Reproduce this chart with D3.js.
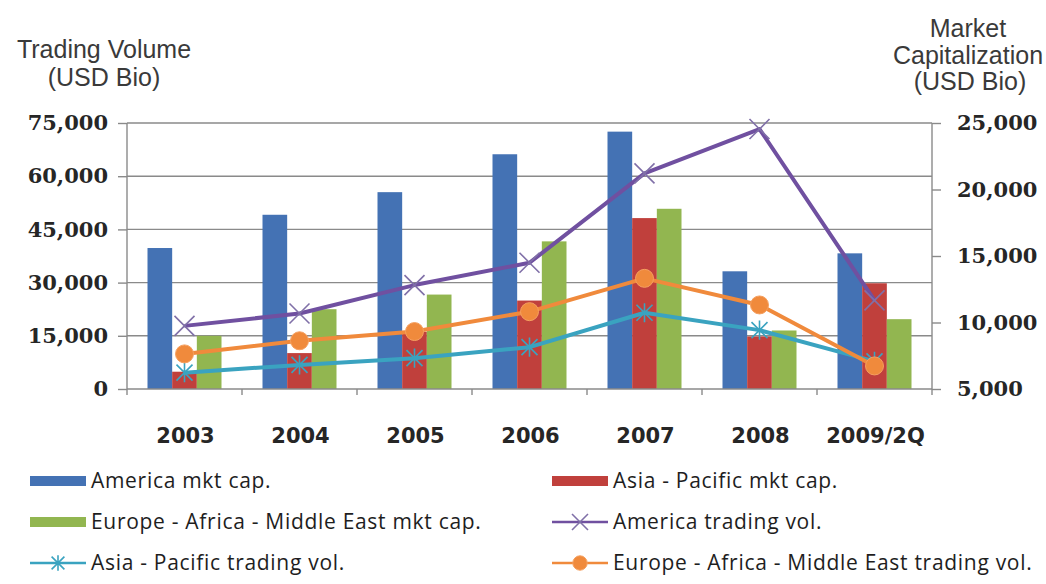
<!DOCTYPE html>
<html>
<head>
<meta charset="utf-8">
<script src="https://cdn.jsdelivr.net/npm/d3@7"></script>
<style>
  html, body { margin: 0; padding: 0; background: #fff; }
  svg { display: block; }
</style>
</head>
<body>
<svg id="chart" width="1046" height="584"></svg>
<script>
// ---- data ----
const years = ["2003", "2004", "2005", "2006", "2007", "2008", "2009/2Q"];
const americaCap = [15600, 18100, 19800, 22650, 24350, 13850, 15200];
const asiaCap    = [6300, 7700, 9300, 11650, 17850, 8950, 12950];
const eameCap    = [9000, 11000, 12100, 16100, 18550, 9400, 10250];
const americaVol = [17800, 21300, 29300, 35600, 60800, 73300, 25000];
const asiaVol    = [4600, 6800, 8700, 11800, 21500, 16600, 7800];
const eameVol    = [9900, 13600, 16200, 21800, 31200, 23700, 6500];
const leftTicks  = [0, 15000, 30000, 45000, 60000, 75000];
const rightTicks = [5000, 10000, 15000, 20000, 25000];
const barSeriesNames  = ["America mkt cap.", "Asia - Pacific mkt cap.", "Europe - Africa - Middle East mkt cap."];
const lineSeriesNames = ["America trading vol.", "Asia - Pacific trading vol.", "Europe - Africa - Middle East trading vol."];

// ---- styles ----
const barColors  = ["#4472B4", "#C0403C", "#92B650"];
const lineColors = ["#7050A0", "#3AA3C0", "#F08A3C"];
const markerTypes = ["x", "star", "circle"];

const svg = d3.select("#chart");
const L = 127, R = 932, T = 123, B = 389;

const x0 = d3.scaleBand().domain(years).range([L, R]).padding(0);
const x1 = d3.scaleBand().domain([0, 1, 2]).range([20.5, 94.5]).padding(0);
const yL = d3.scaleLinear().domain([0, 75000]).range([B, T]);
const yR = d3.scaleLinear().domain([5000, 25000]).range([B, T]);

// gridlines
svg.append("g").selectAll("line").data(leftTicks.filter(d => d > 0)).join("line")
  .attr("x1", L).attr("x2", R)
  .attr("y1", d => yL(d)).attr("y2", d => yL(d))
  .attr("stroke", "#8a8a8a").attr("stroke-width", 1.4);

// bars
const barData = [americaCap, asiaCap, eameCap];
barData.forEach((vals, si) => {
  svg.append("g").selectAll("rect").data(vals).join("rect")
    .attr("x", (d, i) => x0(years[i]) + x1(si))
    .attr("width", x1.bandwidth())
    .attr("y", d => yR(d))
    .attr("height", d => B - yR(d))
    .attr("fill", barColors[si]);
});

// axes
const fmt = d3.format(",");
const axL = svg.append("g").attr("transform", `translate(${L},0)`)
  .call(d3.axisLeft(yL).tickValues(leftTicks).tickFormat(fmt).tickSize(9).tickPadding(10));
const axR = svg.append("g").attr("transform", `translate(${R},0)`)
  .call(d3.axisRight(yR).tickValues(rightTicks).tickFormat(fmt).tickSize(9).tickPadding(16));
[axL, axR].forEach(a => {
  a.selectAll("path,line").attr("stroke", "#8a8a8a").attr("stroke-width", 1.4);
  a.selectAll("text").attr("font-family", "DejaVu Serif").attr("font-weight", "bold")
    .attr("font-size", 21).attr("fill", "#262626");
});
axL.select(".domain").attr("d", `M0,${T}V${B}`);
axR.select(".domain").attr("d", `M0,${T}V${B}`);

// bottom axis
const bottom = svg.append("g");
bottom.append("line").attr("x1", L).attr("x2", R).attr("y1", B).attr("y2", B)
  .attr("stroke", "#8a8a8a").attr("stroke-width", 1.4);
const bounds = years.map(y => x0(y)).concat([R]);
bottom.selectAll("line.tk").data(bounds).join("line").attr("class", "tk")
  .attr("x1", d => d).attr("x2", d => d).attr("y1", B).attr("y2", B + 6)
  .attr("stroke", "#8a8a8a").attr("stroke-width", 1.4);
bottom.selectAll("text").data(years).join("text")
  .attr("x", d => x0(d) + x0.bandwidth() / 2 + 1).attr("y", 443)
  .attr("text-anchor", "middle")
  .attr("font-family", "DejaVu Sans").attr("font-weight", "bold").attr("font-size", 21)
  .attr("fill", "#262626").text(d => d);

// markers
function drawMarker(g, type, cx, cy, color, scale = 1) {
  if (type === "x") {
    const s = 10 * scale;
    g.append("path").attr("d", `M${cx - s},${cy - s}L${cx + s},${cy + s}M${cx - s},${cy + s}L${cx + s},${cy - s}`)
      .attr("stroke", "#8070A8").attr("stroke-width", 1.6).attr("fill", "none");
  } else if (type === "star") {
    const s = 8 * scale;
    g.append("path").attr("d",
      `M${cx - s},${cy - s}L${cx + s},${cy + s}M${cx - s},${cy + s}L${cx + s},${cy - s}M${cx},${cy - s * 1.2}L${cx},${cy + s * 1.2}`)
      .attr("stroke", color).attr("stroke-width", 1.6).attr("fill", "none");
  } else {
    g.append("circle").attr("cx", cx).attr("cy", cy).attr("r", 9 * scale)
      .attr("fill", color).attr("stroke", "#F5A060").attr("stroke-width", 1);
  }
}

// lines
const lineData = [americaVol, asiaVol, eameVol];
const lineGen = d3.line().x((d, i) => x0(years[i]) + x0.bandwidth() / 2).y(d => yL(d));
lineData.forEach((vals, si) => {
  const g = svg.append("g");
  g.append("path").datum(vals).attr("d", lineGen)
    .attr("fill", "none").attr("stroke", lineColors[si]).attr("stroke-width", 4)
    .attr("stroke-linejoin", "round");
  vals.forEach((v, i) => drawMarker(g, markerTypes[si], x0(years[i]) + x0.bandwidth() / 2, yL(v), lineColors[si]));
});

// axis titles
const titleFont = { "font-family": "Liberation Sans", "font-size": 25, "fill": "#3a3a3a" };
function title(txt, x, y) {
  const t = svg.append("text").attr("x", x).attr("y", y).attr("text-anchor", "middle").text(txt);
  Object.entries(titleFont).forEach(([k, v]) => t.attr(k, v));
}
title("Trading Volume", 104, 58);
title("(USD Bio)", 104, 86);
title("Market", 968, 37);
title("Capitalization", 968, 64);
title("(USD Bio)", 970, 90);

// legend
const legendItems = [
  { name: barSeriesNames[0], kind: "bar", color: barColors[0] },
  { name: barSeriesNames[1], kind: "bar", color: barColors[1] },
  { name: barSeriesNames[2], kind: "bar", color: barColors[2] },
  { name: lineSeriesNames[0], kind: "line", color: lineColors[0], marker: markerTypes[0] },
  { name: lineSeriesNames[1], kind: "line", color: lineColors[1], marker: markerTypes[1] },
  { name: lineSeriesNames[2], kind: "line", color: lineColors[2], marker: markerTypes[2] }
];
const colX = [30, 552];
const rowY = [481, 522, 563];
legendItems.forEach((it, i) => {
  const cx = colX[i % 2], cy = rowY[Math.floor(i / 2)];
  const g = svg.append("g");
  if (it.kind === "bar") {
    g.append("rect").attr("x", cx).attr("y", cy - 5).attr("width", 56).attr("height", 10).attr("fill", it.color);
  } else {
    g.append("line").attr("x1", cx).attr("x2", cx + 56).attr("y1", cy).attr("y2", cy)
      .attr("stroke", it.color).attr("stroke-width", 2.5);
    drawMarker(g, it.marker, cx + 28, cy, it.color, 0.8);
  }
  g.append("text").attr("x", cx + 61).attr("y", cy + 7)
    .attr("font-family", "Open Sans").attr("font-size", 21).attr("font-weight", 500)
    .attr("letter-spacing", 0.7).attr("fill", "#1e1e1e")
    .text(it.name);
});
</script>
</body>
</html>
